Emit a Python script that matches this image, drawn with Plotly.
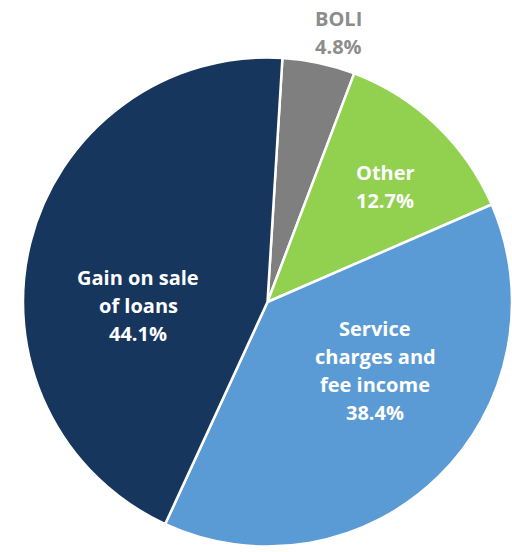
import plotly.graph_objects as go

# Non-interest income mix, clockwise from 12 o'clock
labels = ["BOLI", "Other", "Service<br>charges and<br>fee income", "Gain on sale<br>of loans"]
values = [4.8, 12.7, 38.4, 44.1]
colors = ["#7f7f7f", "#92d050", "#5b9bd5", "#17365d"]
label_colors = ["#8c8c8c", "#ffffff", "#ffffff", "#ffffff"]

# Label block centres (pixels from top-left) for each slice
label_pos = [(338, 32), (385, 186), (375, 370), (138, 305)]

W, H = 512, 552
LINE = 28

fig = go.Figure(go.Pie(
    labels=labels,
    values=values,
    sort=False,
    direction="clockwise",
    rotation=3.5,
    marker=dict(colors=colors, line=dict(color="white", width=2.5)),
    textinfo="none",
    hoverinfo="label+percent",
    domain=dict(x=[23 / W, 1.0], y=[5 / H, 495 / H]),
    showlegend=False,
))

annotations = []
for lab, val, col, (cx, cy) in zip(labels, values, label_colors, label_pos):
    lines = lab.split("<br>") + [f"{val:.1f}%"]
    n = len(lines)
    for i, ln in enumerate(lines):
        py = cy + (i - (n - 1) / 2) * LINE
        annotations.append(dict(
            x=cx / W, y=1 - py / H, xref="paper", yref="paper",
            text=f"<b>{ln}</b>", showarrow=False,
            font=dict(family="Open Sans, sans-serif", size=20, color=col),
            xanchor="center", yanchor="middle",
        ))

fig.update_layout(
    width=W, height=H,
    margin=dict(l=0, r=0, t=0, b=0),
    paper_bgcolor="white",
    plot_bgcolor="white",
    annotations=annotations,
)

fig.write_html("out.html")
